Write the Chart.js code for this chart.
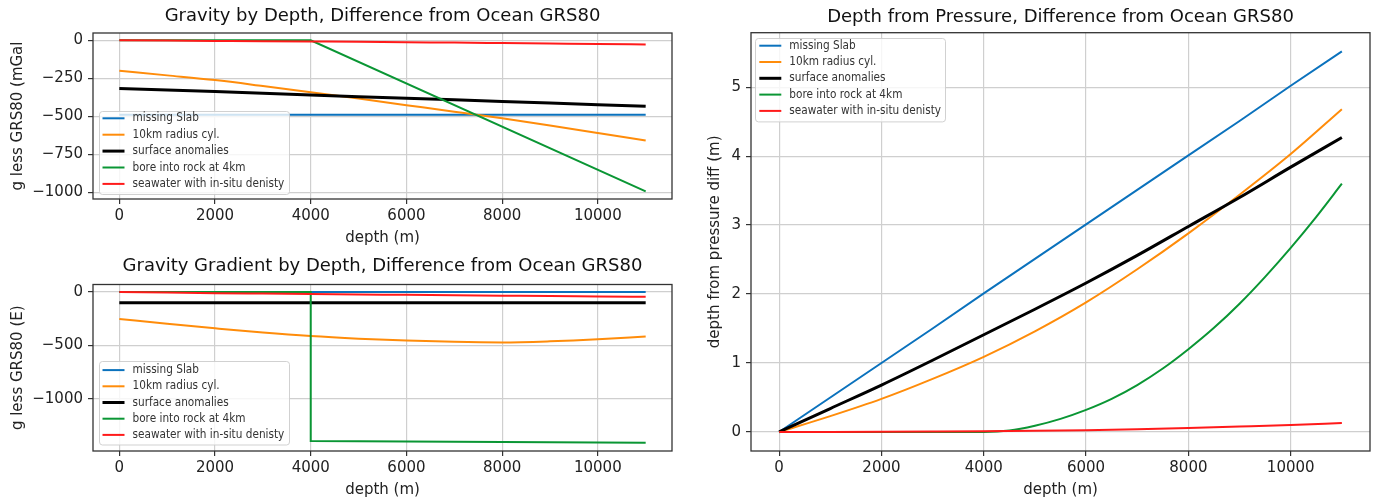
<!DOCTYPE html>
<html>
<head>
<meta charset="utf-8">
<script src="https://cdn.jsdelivr.net/npm/chart.js@4.4.1/dist/chart.umd.min.js"></script>
<style>
  html, body { margin: 0; padding: 0; background: #fff; }
  body { width: 1378px; height: 500px; position: relative; overflow: hidden; }
  canvas { position: absolute; }
  #gravity { left: 0; top: 0; }
  #gradient { left: 0; top: 250px; }
  #pressure { left: 690px; top: 0; }
</style>
</head>
<body>
<canvas id="gravity" width="690" height="250"></canvas>
<canvas id="gradient" width="690" height="250"></canvas>
<canvas id="pressure" width="688" height="500"></canvas>
<script>
// ---- data ----
const seriesNames = ['missing Slab', '10km radius cyl.', 'surface anomalies', 'bore into rock at 4km', 'seawater with in-situ denisty'];
const seriesColors = ['#0b72bd', '#ff8c0a', '#000000', '#0a9634', '#ff1a1a'];
const seriesWidths = [2, 2, 3, 2, 2];

const depth = [0, 1000, 2000, 3000, 4000, 5000, 6000, 7000, 8000, 9000, 10000, 11000];
const xTicks = [0, 2000, 4000, 6000, 8000, 10000];

// gravity difference (mGal)
const gSlab = [-490, -490, -490, -490, -490, -490, -490, -490, -490, -490, -490, -490];
const gCyl = [-201, -231, -262, -301, -342, -384, -427, -470, -514, -561, -610, -660];
const gSurface = [-317, -328, -338, -349, -360, -371, -381, -392, -403, -413, -424, -435];
const gBoreDepth = [0, 4000, 11000];
const gBore = [0, 0, -995];
const gSeawater = [0, -2, -4, -6, -8, -10, -13, -15, -18, -21, -24, -28];
const gTicks = [0, -250, -500, -750, -1000];

// gravity gradient difference (E)
const ggSlab = [0, 0, 0, 0, 0, 0, 0, 0, 0, 0, 0, 0];
const ggCyl = [-253, -297, -340, -380, -413, -437, -455, -467, -472, -462, -443, -416];
const ggSurface = [-100, -100, -100, -100, -100, -100, -100, -100, -100, -100, -100, -100];
const ggBoreDepth = [0, 4000, 4000, 11000];
const ggBore = [0, 0, -1397, -1414];
const ggSeawater = [0, -5, -10, -14, -18, -22, -26, -30, -34, -38, -41, -45];
const ggTicks = [0, -500, -1000];

// depth from pressure difference (m)
const pSlab = [0, 0.50, 1.00, 1.50, 2.01, 2.51, 3.01, 3.51, 4.01, 4.51, 5.02, 5.52];
const pCyl = [0, 0.23, 0.48, 0.77, 1.09, 1.46, 1.88, 2.36, 2.88, 3.44, 4.03, 4.68];
const pSurface = [0, 0.34, 0.68, 1.04, 1.41, 1.78, 2.16, 2.56, 2.98, 3.40, 3.84, 4.27];
const pBoreDepth = [0, 4000, 4500, 5000, 5500, 6000, 6500, 7000, 7500, 8000, 8500, 9000, 9500, 10000, 10500, 11000];
const pBore = [0, 0, 0.02, 0.09, 0.19, 0.32, 0.48, 0.68, 0.92, 1.20, 1.51, 1.86, 2.25, 2.67, 3.12, 3.60];
const pSeawater = [0, 0.001, 0.003, 0.006, 0.01, 0.016, 0.025, 0.04, 0.058, 0.078, 0.10, 0.13];
const pTicks = [0, 1, 2, 3, 4, 5];

const FONT = '"DejaVu Sans", sans-serif';
const LEGEND_FONT = '"DejaVu Sans Condensed", "Liberation Sans Narrow", "DejaVu Sans", sans-serif';

function pts(xs, ys) {
  return xs.map((x, i) => ({ x: x, y: ys[i] }));
}

function makeDatasets(list, smooth) {
  return list.map((d, i) => ({
    label: seriesNames[i],
    data: pts(d[0], d[1]),
    borderColor: seriesColors[i],
    backgroundColor: seriesColors[i],
    borderWidth: seriesWidths[i],
    pointRadius: 0,
    fill: false,
    cubicInterpolationMode: smooth[i] ? 'monotone' : 'default',
    tension: 0,
    order: 5 - i // red on top like matplotlib
  }));
}

// frame around the axes + matplotlib-like legend inside the plot
const boxLegend = {
  id: 'boxLegend',
  afterDatasetsDraw(chart, args, opts) {
    const { ctx, chartArea: a } = chart;
    ctx.save();
    ctx.strokeStyle = '#333';
    ctx.lineWidth = 1.3;
    ctx.strokeRect(a.left, a.top, a.right - a.left, a.bottom - a.top);

    const x = a.left + opts.dx;
    const y = opts.anchor === 'bottom' ? a.bottom - opts.dy - opts.h : a.top + opts.dy;
    ctx.fillStyle = 'rgba(255,255,255,0.8)';
    ctx.strokeStyle = 'rgba(204,204,204,0.9)';
    ctx.lineWidth = 1;
    ctx.beginPath();
    ctx.roundRect(Math.round(x) + 0.5, Math.round(y) + 0.5, opts.w, opts.h, 3);
    ctx.fill();
    ctx.stroke();

    ctx.font = '11.7px ' + LEGEND_FONT;
    ctx.textBaseline = 'middle';
    chart.data.datasets.forEach((ds, i) => {
      const ry = y + opts.first + i * opts.step;
      ctx.strokeStyle = ds.borderColor;
      ctx.lineWidth = ds.borderWidth;
      ctx.beginPath();
      ctx.moveTo(x + opts.hx, ry);
      ctx.lineTo(x + opts.hx + 22, ry);
      ctx.stroke();
      ctx.fillStyle = '#333';
      ctx.fillText(ds.label, x + opts.tx, ry);
    });
    ctx.restore();
  }
};

const minus = v => String(v).replace('-', '\u2212');

function makeChart(id, o) {
  return new Chart(document.getElementById(id), {
    type: 'line',
    data: { datasets: o.datasets },
    plugins: [boxLegend],
    options: {
      responsive: false,
      animation: false,
      events: [],
      layout: { padding: { left: 0, right: o.padRight, top: 0, bottom: 0 } },
      plugins: {
        legend: { display: false },
        tooltip: { enabled: false },
        title: {
          display: true,
          text: o.title,
          fullSize: false,
          color: '#111',
          font: { family: FONT, size: 18, weight: 'normal', lineHeight: 1.2 },
          padding: o.titlePad
        },
        boxLegend: o.legend
      },
      scales: {
        x: {
          type: 'linear',
          min: -550,
          max: 11550,
          afterBuildTicks: s => { s.ticks = xTicks.map(v => ({ value: v })); },
          afterFit: s => { s.height = o.xHeight; },
          grid: { color: '#cfcfcf', lineWidth: 1.2, tickColor: '#333', tickLength: 5, tickWidth: 1.2 },
          border: { display: false },
          ticks: { color: '#222', font: { family: FONT, size: 15 }, padding: 3, maxRotation: 0, callback: v => String(v) },
          title: { display: true, text: 'depth (m)', color: '#222', font: { family: FONT, size: 15 }, padding: { top: 0, bottom: o.xTitlePad } }
        },
        y: {
          type: 'linear',
          min: o.yMin,
          max: o.yMax,
          afterBuildTicks: s => { s.ticks = o.yTicks.map(v => ({ value: v })); },
          afterFit: s => { s.width = o.yWidth; },
          grid: { color: '#cfcfcf', lineWidth: 1.2, tickColor: '#333', tickLength: 5, tickWidth: 1.2 },
          border: { display: false },
          ticks: { color: '#222', font: { family: FONT, size: 15 }, padding: 5, callback: v => minus(v) },
          title: { display: true, text: o.yTitle, color: '#222', font: { family: FONT, size: 15 }, padding: { top: o.yTitlePad, bottom: 0 } }
        }
      }
    }
  });
}

makeChart('gravity', {
  title: 'Gravity by Depth, Difference from Ocean GRS80',
  titlePad: { top: 5.7, bottom: 5.7 },
  padRight: 18,
  xHeight: 51,
  xTitlePad: 3.3,
  yWidth: 93,
  yTitlePad: 9,
  yTitle: 'g less GRS80 (mGal',
  yMin: -1045,
  yMax: 48,
  yTicks: gTicks,
  legend: { anchor: 'bottom', dx: 6, dy: 5, w: 190, h: 83, first: 7.3, step: 16.4, hx: 3.5, tx: 33.5 },
  datasets: makeDatasets([
    [depth, gSlab], [depth, gCyl], [depth, gSurface], [gBoreDepth, gBore], [depth, gSeawater]
  ], [false, true, false, false, true])
});

makeChart('gradient', {
  title: 'Gravity Gradient by Depth, Difference from Ocean GRS80',
  titlePad: { top: 5.9, bottom: 7 },
  padRight: 18,
  xHeight: 49,
  xTitlePad: 1.3,
  yWidth: 93,
  yTitlePad: 9,
  yTitle: 'g less GRS80 (E)',
  yMin: -1491,
  yMax: 71,
  yTicks: ggTicks,
  legend: { anchor: 'bottom', dx: 6, dy: 6.7, w: 190, h: 83.5, first: 9.3, step: 16.2, hx: 3.5, tx: 33.5 },
  datasets: makeDatasets([
    [depth, ggSlab], [depth, ggCyl], [depth, ggSurface], [ggBoreDepth, ggBore], [depth, ggSeawater]
  ], [false, true, false, false, true])
});

makeChart('pressure', {
  title: 'Depth from Pressure, Difference from Ocean GRS80',
  titlePad: { top: 6.2, bottom: 4.9 },
  padRight: 8,
  xHeight: 49,
  xTitlePad: 1.3,
  yWidth: 61,
  yTitlePad: 16,
  yTitle: 'depth from pressure diff (m)',
  yMin: -0.276,
  yMax: 5.79,
  yTicks: pTicks,
  legend: { anchor: 'top', dx: 4, dy: 5.6, w: 190, h: 83.4, first: 7.4, step: 16.3, hx: 4.3, tx: 34.3 },
  datasets: makeDatasets([
    [depth, pSlab], [depth, pCyl], [depth, pSurface], [pBoreDepth, pBore], [depth, pSeawater]
  ], [false, true, true, true, true])
});
</script>
</body>
</html>
